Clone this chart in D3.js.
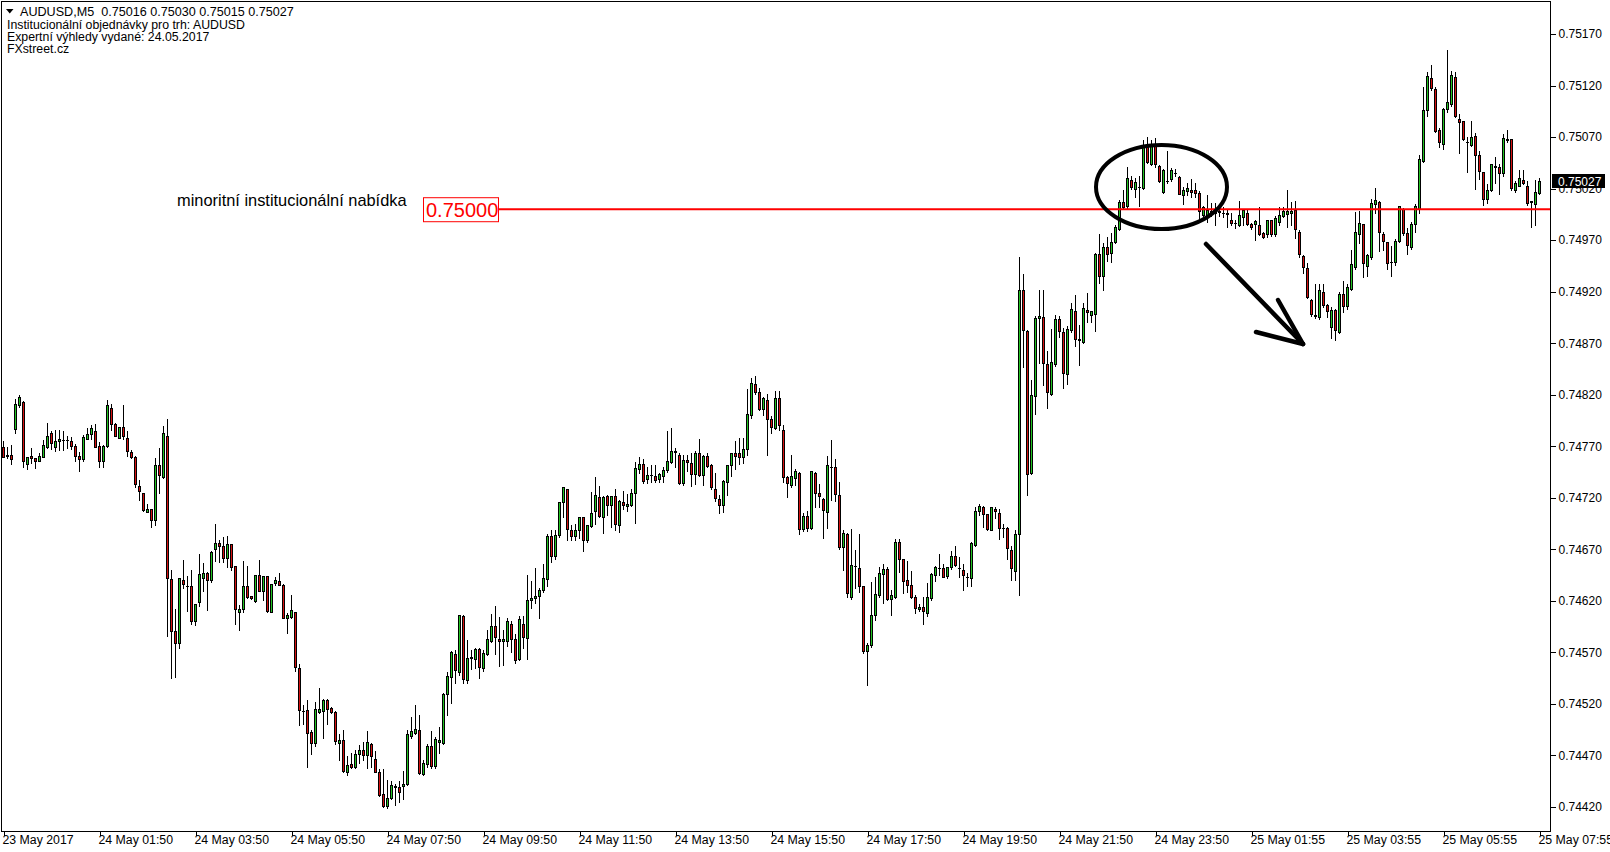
<!DOCTYPE html>
<html><head><meta charset="utf-8">
<script src="https://cdn.jsdelivr.net/npm/d3@7"></script>
<style>body{margin:0;background:#fff;overflow:hidden}svg{display:block;font-family:"Liberation Sans",Arial,sans-serif}</style>
</head><body><svg id="c" width="1610" height="852"></svg>
<script>
const open=[0.74769,0.74762,0.74762,0.74787,0.74810,0.74813,0.74753,0.74761,0.74759,0.74756,
0.74760,0.74769,0.74783,0.74769,0.74775,0.74776,0.74776,0.74775,0.74770,0.74761,
0.74758,0.74777,0.74782,0.74785,0.74770,0.74756,0.74770,0.74807,0.74792,0.74778,
0.74789,0.74778,0.74764,0.74760,0.74731,0.74725,0.74706,0.74709,0.74698,0.74752,
0.74740,0.74780,0.74641,0.74591,0.74579,0.74640,0.74634,0.74634,0.74600,0.74619,
0.74642,0.74647,0.74640,0.74670,0.74676,0.74673,0.74662,0.74675,0.74654,0.74609,
0.74612,0.74634,0.74625,0.74620,0.74645,0.74630,0.74644,0.74609,0.74637,0.74639,
0.74635,0.74603,0.74604,0.74609,0.74555,0.74513,0.74514,0.74493,0.74482,0.74512,
0.74513,0.74524,0.74516,0.74512,0.74482,0.74485,0.74454,0.74462,0.74459,0.74471,
0.74475,0.74470,0.74481,0.74467,0.74454,0.74433,0.74421,0.74429,0.74440,0.74439,
0.74440,0.74442,0.74489,0.74492,0.74495,0.74452,0.74462,0.74479,0.74460,0.74483,
0.74482,0.74530,0.74546,0.74568,0.74551,0.74605,0.74543,0.74565,0.74564,0.74573,
0.74555,0.74568,0.74581,0.74596,0.74583,0.74581,0.74581,0.74598,0.74583,0.74564,
0.74598,0.74584,0.74621,0.74623,0.74625,0.74631,0.74641,0.74683,0.74664,0.74684,
0.74716,0.74729,0.74689,0.74683,0.74689,0.74701,0.74679,0.74693,0.74707,0.74721,
0.74701,0.74722,0.74713,0.74722,0.74694,0.74716,0.74712,0.74713,0.74725,0.74748,
0.74753,0.74738,0.74742,0.74741,0.74738,0.74741,0.74747,0.74755,0.74765,0.74762,
0.74734,0.74757,0.74754,0.74743,0.74763,0.74742,0.74761,0.74752,0.74729,0.74719,
0.74713,0.74735,0.74752,0.74763,0.74763,0.74760,0.74767,0.74800,0.74830,0.74823,
0.74806,0.74815,0.74796,0.74788,0.74817,0.74786,0.74740,0.74732,0.74739,0.74744,
0.74690,0.74702,0.74691,0.74744,0.74725,0.74719,0.74706,0.74750,0.74750,0.74723,
0.74672,0.74685,0.74624,0.74654,0.74652,0.74634,0.74571,0.74577,0.74606,0.74626,
0.74646,0.74651,0.74622,0.74624,0.74677,0.74661,0.74640,0.74635,0.74624,0.74612,
0.74614,0.74608,0.74623,0.74645,0.74652,0.74652,0.74644,0.74653,0.74664,0.74652,
0.74650,0.74643,0.74642,0.74674,0.74707,0.74711,0.74704,0.74689,0.74709,0.74705,
0.74691,0.74691,0.74669,0.74649,0.74685,0.74922,0.74882,0.74744,0.74819,0.74894,
0.74895,0.74850,0.74821,0.74850,0.74893,0.74881,0.74840,0.74883,0.74901,0.74874,
0.74871,0.74902,0.74897,0.74898,0.74957,0.74935,0.74963,0.74958,0.74968,0.74981,
0.75007,0.75003,0.75028,0.75020,0.75022,0.75021,0.75061,0.75044,0.75061,0.75042,
0.75017,0.75027,0.75029,0.75035,0.75031,0.75014,0.75018,0.75019,0.75019,0.75016,
0.74994,0.74994,0.74996,0.74999,0.74998,0.74996,0.74996,0.74990,0.74987,0.74985,
0.74992,0.74996,0.74986,0.74986,0.74985,0.74977,0.74976,0.74990,0.74976,0.74988,
0.74993,0.74995,0.74996,0.74999,0.74978,0.74955,0.74943,0.74912,0.74896,0.74895,
0.74920,0.74907,0.74886,0.74902,0.74881,0.74918,0.74906,0.74923,0.74944,0.74976,
0.74986,0.74945,0.74954,0.75005,0.75007,0.74976,0.74968,0.74949,0.74949,0.74969,
0.75000,0.74977,0.74963,0.74986,0.75000,0.75047,0.75096,0.75127,0.75117,0.75077,
0.75063,0.75097,0.75102,0.75128,0.75088,0.75086,0.75065,0.75062,0.75071,0.75053,
0.75036,0.75010,0.75019,0.75041,0.75041,0.75035,0.75068,0.75068,0.75019,0.75023,
0.75028,0.75023,0.75008,0.75005,0.75016];
const high=[0.74775,0.74769,0.74771,0.74816,0.74820,0.74814,0.74760,0.74768,0.74759,0.74763,
0.74776,0.74793,0.74785,0.74786,0.74786,0.74785,0.74780,0.74779,0.74772,0.74764,
0.74781,0.74788,0.74791,0.74792,0.74774,0.74771,0.74815,0.74811,0.74793,0.74789,
0.74810,0.74785,0.74766,0.74761,0.74737,0.74725,0.74714,0.74709,0.74759,0.74768,
0.74790,0.74796,0.74650,0.74612,0.74642,0.74660,0.74644,0.74650,0.74617,0.74665,
0.74657,0.74648,0.74668,0.74695,0.74679,0.74682,0.74683,0.74675,0.74654,0.74616,
0.74659,0.74654,0.74625,0.74645,0.74660,0.74644,0.74644,0.74636,0.74643,0.74647,
0.74636,0.74608,0.74626,0.74609,0.74559,0.74519,0.74524,0.74495,0.74522,0.74535,
0.74525,0.74525,0.74517,0.74513,0.74491,0.74495,0.74469,0.74472,0.74475,0.74480,
0.74483,0.74494,0.74482,0.74474,0.74457,0.74457,0.74446,0.74445,0.74442,0.74445,
0.74455,0.74495,0.74507,0.74519,0.74509,0.74466,0.74481,0.74494,0.74488,0.74498,
0.74531,0.74551,0.74571,0.74572,0.74606,0.74606,0.74582,0.74572,0.74574,0.74574,
0.74572,0.74592,0.74607,0.74615,0.74604,0.74592,0.74603,0.74600,0.74588,0.74605,
0.74605,0.74645,0.74639,0.74652,0.74632,0.74656,0.74685,0.74689,0.74689,0.74716,
0.74730,0.74729,0.74694,0.74695,0.74701,0.74701,0.74694,0.74726,0.74740,0.74731,
0.74722,0.74723,0.74722,0.74729,0.74718,0.74727,0.74724,0.74729,0.74755,0.74760,
0.74758,0.74750,0.74752,0.74752,0.74744,0.74750,0.74785,0.74788,0.74768,0.74763,
0.74762,0.74762,0.74763,0.74765,0.74777,0.74762,0.74763,0.74753,0.74744,0.74723,
0.74737,0.74752,0.74763,0.74775,0.74778,0.74778,0.74826,0.74836,0.74838,0.74827,
0.74818,0.74821,0.74799,0.74824,0.74824,0.74791,0.74741,0.74762,0.74748,0.74745,
0.74705,0.74707,0.74746,0.74745,0.74733,0.74720,0.74761,0.74776,0.74758,0.74735,
0.74689,0.74686,0.74690,0.74669,0.74685,0.74634,0.74579,0.74638,0.74643,0.74653,
0.74656,0.74653,0.74631,0.74680,0.74680,0.74661,0.74659,0.74649,0.74626,0.74617,
0.74624,0.74637,0.74647,0.74654,0.74665,0.74656,0.74653,0.74668,0.74673,0.74663,
0.74656,0.74647,0.74677,0.74711,0.74714,0.74712,0.74704,0.74711,0.74711,0.74709,
0.74695,0.74692,0.74673,0.74689,0.74954,0.74937,0.74883,0.74834,0.74896,0.74922,
0.74922,0.74862,0.74884,0.74897,0.74896,0.74885,0.74887,0.74909,0.74917,0.74888,
0.74909,0.74919,0.74901,0.74958,0.74976,0.74967,0.74973,0.74977,0.74985,0.75009,
0.75019,0.75041,0.75032,0.75030,0.75032,0.75067,0.75070,0.75067,0.75069,0.75043,
0.75039,0.75056,0.75040,0.75039,0.75032,0.75022,0.75025,0.75029,0.75025,0.75018,
0.75003,0.75014,0.75006,0.75006,0.75001,0.75002,0.75000,0.74996,0.74990,0.75008,
0.75000,0.75000,0.74987,0.74990,0.75002,0.74978,0.74990,0.74990,0.74993,0.75002,
0.75002,0.75019,0.75007,0.75008,0.74980,0.74956,0.74948,0.74913,0.74927,0.74927,
0.74927,0.74908,0.74905,0.74903,0.74920,0.74930,0.74927,0.74960,0.74997,0.74998,
0.74986,0.74957,0.75010,0.75021,0.75008,0.74978,0.74968,0.74964,0.74971,0.75003,
0.75001,0.74982,0.74988,0.75005,0.75053,0.75119,0.75133,0.75140,0.75119,0.75079,
0.75098,0.75154,0.75134,0.75133,0.75092,0.75086,0.75070,0.75086,0.75074,0.75056,
0.75036,0.75024,0.75044,0.75051,0.75044,0.75073,0.75077,0.75068,0.75027,0.75038,
0.75038,0.75027,0.75008,0.75028,0.75030];
const low=[0.74760,0.74759,0.74753,0.74783,0.74808,0.74750,0.74748,0.74754,0.74749,0.74756,
0.74760,0.74768,0.74767,0.74765,0.74766,0.74766,0.74768,0.74767,0.74756,0.74746,
0.74756,0.74777,0.74777,0.74769,0.74750,0.74750,0.74769,0.74786,0.74780,0.74778,
0.74777,0.74761,0.74759,0.74730,0.74718,0.74707,0.74706,0.74692,0.74694,0.74725,
0.74739,0.74586,0.74545,0.74546,0.74574,0.74632,0.74610,0.74598,0.74597,0.74615,
0.74630,0.74611,0.74638,0.74659,0.74658,0.74658,0.74653,0.74650,0.74598,0.74592,
0.74609,0.74623,0.74622,0.74619,0.74630,0.74621,0.74609,0.74609,0.74635,0.74635,
0.74603,0.74589,0.74603,0.74552,0.74500,0.74501,0.74459,0.74471,0.74479,0.74511,
0.74487,0.74501,0.74511,0.74481,0.74466,0.74454,0.74451,0.74458,0.74458,0.74463,
0.74466,0.74458,0.74459,0.74454,0.74431,0.74420,0.74419,0.74428,0.74422,0.74425,
0.74428,0.74441,0.74487,0.74491,0.74452,0.74451,0.74459,0.74458,0.74458,0.74472,
0.74481,0.74509,0.74521,0.74540,0.74548,0.74540,0.74540,0.74554,0.74555,0.74545,
0.74552,0.74567,0.74580,0.74568,0.74557,0.74558,0.74576,0.74570,0.74560,0.74563,
0.74574,0.74564,0.74613,0.74618,0.74603,0.74629,0.74634,0.74658,0.74661,0.74682,
0.74701,0.74679,0.74679,0.74679,0.74681,0.74668,0.74677,0.74692,0.74695,0.74701,
0.74686,0.74703,0.74692,0.74689,0.74687,0.74709,0.74707,0.74712,0.74696,0.74744,
0.74734,0.74734,0.74735,0.74735,0.74735,0.74735,0.74745,0.74754,0.74750,0.74733,
0.74732,0.74746,0.74731,0.74733,0.74741,0.74732,0.74750,0.74729,0.74717,0.74705,
0.74706,0.74723,0.74741,0.74748,0.74753,0.74754,0.74762,0.74797,0.74821,0.74805,
0.74800,0.74762,0.74783,0.74787,0.74786,0.74735,0.74721,0.74730,0.74732,0.74685,
0.74688,0.74688,0.74690,0.74711,0.74711,0.74681,0.74691,0.74718,0.74717,0.74670,
0.74650,0.74624,0.74622,0.74632,0.74629,0.74569,0.74538,0.74575,0.74601,0.74624,
0.74618,0.74621,0.74606,0.74623,0.74648,0.74628,0.74629,0.74623,0.74608,0.74610,
0.74598,0.74605,0.74621,0.74639,0.74645,0.74643,0.74642,0.74651,0.74654,0.74643,
0.74631,0.74634,0.74634,0.74673,0.74703,0.74692,0.74689,0.74689,0.74700,0.74680,
0.74682,0.74661,0.74640,0.74640,0.74626,0.74847,0.74723,0.74743,0.74801,0.74851,
0.74829,0.74807,0.74820,0.74848,0.74876,0.74827,0.74830,0.74881,0.74867,0.74849,
0.74870,0.74891,0.74891,0.74882,0.74928,0.74922,0.74950,0.74949,0.74967,0.74980,
0.75001,0.75001,0.75020,0.75012,0.75003,0.75020,0.75045,0.75043,0.75041,0.75026,
0.75016,0.75025,0.75027,0.75032,0.75015,0.75005,0.75014,0.75012,0.75012,0.74990,
0.74990,0.74988,0.74993,0.74985,0.74993,0.74992,0.74983,0.74985,0.74982,0.74984,
0.74985,0.74985,0.74981,0.74970,0.74975,0.74972,0.74973,0.74974,0.74974,0.74985,
0.74992,0.74983,0.74985,0.74972,0.74954,0.74938,0.74914,0.74896,0.74894,0.74893,
0.74905,0.74895,0.74875,0.74873,0.74880,0.74900,0.74903,0.74922,0.74942,0.74967,
0.74934,0.74935,0.74952,0.74996,0.74959,0.74960,0.74942,0.74935,0.74946,0.74968,
0.74975,0.74957,0.74961,0.74978,0.74996,0.75046,0.75090,0.75116,0.75075,0.75060,
0.75058,0.75094,0.75100,0.75089,0.75055,0.75067,0.75036,0.75061,0.75020,0.75029,
0.75004,0.75006,0.75018,0.75025,0.75015,0.75032,0.75065,0.75019,0.75017,0.75023,
0.75024,0.75004,0.74983,0.74985,0.75015];
const close=[0.74760,0.74761,0.74758,0.74811,0.74818,0.74756,0.74760,0.74759,0.74756,0.74761,
0.74771,0.74780,0.74773,0.74775,0.74777,0.74776,0.74776,0.74770,0.74761,0.74758,
0.74779,0.74782,0.74788,0.74769,0.74756,0.74770,0.74810,0.74792,0.74780,0.74789,
0.74780,0.74765,0.74760,0.74733,0.74727,0.74708,0.74709,0.74698,0.74752,0.74742,
0.74783,0.74642,0.74591,0.74579,0.74642,0.74636,0.74634,0.74600,0.74617,0.74646,
0.74647,0.74640,0.74667,0.74676,0.74673,0.74662,0.74675,0.74653,0.74612,0.74612,
0.74634,0.74624,0.74623,0.74645,0.74630,0.74644,0.74610,0.74636,0.74640,0.74635,
0.74603,0.74606,0.74611,0.74556,0.74514,0.74513,0.74492,0.74482,0.74515,0.74515,
0.74524,0.74515,0.74512,0.74484,0.74485,0.74455,0.74461,0.74459,0.74471,0.74475,
0.74470,0.74483,0.74469,0.74454,0.74432,0.74421,0.74429,0.74441,0.74439,0.74435,
0.74442,0.74491,0.74494,0.74496,0.74453,0.74463,0.74479,0.74460,0.74486,0.74485,
0.74530,0.74547,0.74570,0.74553,0.74606,0.74544,0.74565,0.74566,0.74573,0.74556,
0.74569,0.74583,0.74596,0.74585,0.74581,0.74583,0.74600,0.74583,0.74563,0.74602,
0.74585,0.74621,0.74623,0.74625,0.74631,0.74642,0.74683,0.74664,0.74684,0.74716,
0.74730,0.74690,0.74683,0.74689,0.74701,0.74679,0.74694,0.74705,0.74723,0.74702,
0.74721,0.74713,0.74722,0.74695,0.74717,0.74713,0.74714,0.74725,0.74749,0.74753,
0.74736,0.74742,0.74742,0.74737,0.74743,0.74747,0.74756,0.74765,0.74764,0.74734,
0.74757,0.74755,0.74743,0.74763,0.74742,0.74761,0.74751,0.74730,0.74720,0.74713,
0.74736,0.74752,0.74763,0.74761,0.74760,0.74767,0.74801,0.74831,0.74823,0.74806,
0.74817,0.74796,0.74789,0.74817,0.74791,0.74740,0.74734,0.74741,0.74746,0.74690,
0.74702,0.74691,0.74746,0.74725,0.74722,0.74708,0.74752,0.74750,0.74724,0.74672,
0.74686,0.74628,0.74655,0.74654,0.74634,0.74571,0.74577,0.74606,0.74627,0.74647,
0.74651,0.74622,0.74626,0.74677,0.74661,0.74639,0.74635,0.74624,0.74613,0.74614,
0.74610,0.74624,0.74646,0.74653,0.74652,0.74643,0.74653,0.74664,0.74655,0.74652,
0.74645,0.74643,0.74676,0.74707,0.74712,0.74704,0.74690,0.74711,0.74707,0.74691,
0.74691,0.74671,0.74652,0.74685,0.74922,0.74883,0.74743,0.74820,0.74894,0.74896,
0.74851,0.74823,0.74852,0.74893,0.74882,0.74841,0.74884,0.74903,0.74874,0.74873,
0.74904,0.74900,0.74901,0.74957,0.74935,0.74963,0.74957,0.74968,0.74983,0.75007,
0.75002,0.75030,0.75022,0.75026,0.75022,0.75061,0.75046,0.75061,0.75044,0.75027,
0.75038,0.75027,0.75038,0.75035,0.75015,0.75019,0.75021,0.75017,0.75016,0.74998,
0.75002,0.74999,0.74998,0.74996,0.74997,0.74996,0.74995,0.74987,0.74987,0.74994,
0.74999,0.74986,0.74983,0.74989,0.74976,0.74973,0.74990,0.74976,0.74991,0.74994,
0.74998,0.74998,0.74998,0.74981,0.74957,0.74944,0.74915,0.74898,0.74897,0.74922,
0.74907,0.74901,0.74902,0.74883,0.74918,0.74906,0.74925,0.74947,0.74978,0.74987,
0.74948,0.74956,0.75006,0.75009,0.74978,0.74969,0.74948,0.74949,0.74969,0.75003,
0.74977,0.74965,0.74986,0.75003,0.75049,0.75096,0.75129,0.75118,0.75076,0.75065,
0.75097,0.75104,0.75130,0.75090,0.75085,0.75068,0.75065,0.75070,0.75053,0.75037,
0.75010,0.75019,0.75044,0.75042,0.75035,0.75069,0.75067,0.75021,0.75025,0.75030,
0.75025,0.75006,0.75007,0.75017,0.75027];

const timeTickIdx=[0,24,48,72,96,120,144,168,192,216,240,264,288,312,336,360,384];
const timeTickLabels=["23 May 2017","24 May 01:50","24 May 03:50","24 May 05:50","24 May 07:50","24 May 09:50","24 May 11:50","24 May 13:50","24 May 15:50","24 May 17:50","24 May 19:50","24 May 21:50","24 May 23:50","25 May 01:55","25 May 03:55","25 May 05:55","25 May 07:55"];
const priceTicks=[0.74420,0.74470,0.74520,0.74570,0.74620,0.74670,0.74720,0.74770,0.74820,0.74870,0.74920,0.74970,0.75020,0.75070,0.75120,0.75170];
const levelPrice=0.75000;
const levelLabel="0.75000";
const levelText="minoritní institucionální nabídka";
const lastPrice=0.75027;
const headerTitle="AUDUSD,M5  0.75016 0.75030 0.75015 0.75027";
const headerLines=["Institucionální objednávky pro trh: AUDUSD","Expertní výhledy vydané: 24.05.2017","FXstreet.cz"];

const svg=d3.select("#c");
const x=d3.scaleLinear().domain([0,384]).range([3.5,1539.5]);
const y=d3.scaleLinear().domain([0.74420,0.75170]).range([807,34]);
const GREEN="#22c322", RED="#d41111";

// candles
const g=svg.append("g").attr("shape-rendering","crispEdges");
open.forEach((o,i)=>{
  const c=close[i];
  const h=Math.max(high[i],o,c), l=Math.min(low[i],o,c);
  const xc=x(i);
  const yh=Math.round(y(h)), yl=Math.round(y(l));
  g.append("rect").attr("x",xc-0.5).attr("y",yh).attr("width",1).attr("height",Math.max(1,yl-yh+1)).attr("fill","#000");
  const top=Math.round(y(Math.max(o,c))), bot=Math.round(y(Math.min(o,c)));
  if(bot-top<1){
    g.append("rect").attr("x",xc-1.5).attr("y",top).attr("width",3).attr("height",1).attr("fill","#000");
  } else {
    g.append("rect").attr("x",xc-1).attr("y",top+0.5).attr("width",2).attr("height",bot-top)
      .attr("fill",c>=o?GREEN:RED).attr("stroke","#000").attr("stroke-width",1);
  }
});

// frame
svg.append("rect").attr("x",1.5).attr("y",1.5).attr("width",1549).attr("height",830)
  .attr("fill","none").attr("stroke","#000").attr("shape-rendering","crispEdges");

// right axis
const ay=svg.append("g").attr("transform","translate(1550.5,0)")
  .call(d3.axisRight(y).tickValues(priceTicks).tickFormat(d3.format(".5f")).tickSize(5).tickPadding(3));
ay.select(".domain").remove();
ay.selectAll("line").attr("stroke","#000").attr("shape-rendering","crispEdges");
ay.selectAll("text").attr("font-family","'Liberation Sans',Arial,sans-serif").attr("font-size",12).attr("fill","#000");

// bottom axis
const ax=svg.append("g").attr("transform","translate(0,831.5)")
  .call(d3.axisBottom(x).tickValues(timeTickIdx).tickFormat((d,i)=>timeTickLabels[i]).tickSize(4).tickPadding(0));
ax.select(".domain").remove();
ax.selectAll("line").attr("stroke","#000").attr("shape-rendering","crispEdges");
ax.selectAll("text").attr("text-anchor","start").attr("x",-1.5)
  .attr("font-family","'Liberation Sans',Arial,sans-serif").attr("font-size",12.3).attr("fill","#000");

// level line + label
const yl0=y(levelPrice);
svg.append("line").attr("x1",498).attr("x2",1550).attr("y1",yl0).attr("y2",yl0)
  .attr("stroke","#ff0000").attr("stroke-width",2);
svg.append("rect").attr("x",423.5).attr("y",yl0-11.5).attr("width",75).attr("height",24)
  .attr("fill","#fff").attr("stroke","#ff0000").attr("stroke-width",1);
svg.append("text").attr("x",426).attr("y",yl0+8).attr("font-size",20).attr("fill","#ff0000").text(levelLabel);
svg.append("text").attr("x",177).attr("y",206).attr("font-size",16.4).attr("fill","#000").text(levelText);

// ellipse + arrow
svg.append("ellipse").attr("cx",1161.5).attr("cy",187).attr("rx",65.5).attr("ry",42)
  .attr("fill","none").attr("stroke","#000").attr("stroke-width",4);
const arrow=svg.append("g").attr("stroke","#000").attr("stroke-width",4.5).attr("stroke-linecap","round").attr("fill","none");
arrow.append("line").attr("x1",1206).attr("y1",244).attr("x2",1303).attr("y2",344);
arrow.append("line").attr("x1",1278).attr("y1",300).attr("x2",1303).attr("y2",344);
arrow.append("line").attr("x1",1256).attr("y1",332).attr("x2",1303).attr("y2",344);

// last price box
const ylp=Math.round(y(lastPrice));
svg.append("rect").attr("x",1552).attr("y",ylp-7).attr("width",53).attr("height",14).attr("fill","#000");
svg.append("text").attr("x",1558).attr("y",ylp+4.5).attr("font-size",12).attr("fill","#fff").text(d3.format(".5f")(lastPrice));

// header
svg.append("path").attr("d","M6,9 L13.5,9 L9.75,13.5 Z").attr("fill","#000");
svg.append("text").attr("x",20).attr("y",16).attr("font-size",12.6).attr("fill","#000")
  .attr("xml:space","preserve").style("white-space","pre").text(headerTitle);
headerLines.forEach((t,i)=>{
  svg.append("text").attr("x",7).attr("y",28.5+i*12.4).attr("font-size",12.3).attr("fill","#000").text(t);
});
</script>
</body></html>
